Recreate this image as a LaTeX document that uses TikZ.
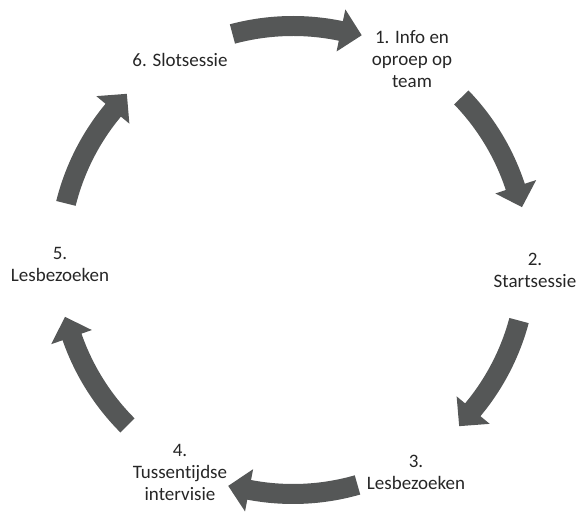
\documentclass[tikz,border=0pt]{standalone}
\usepackage{fontspec}
\setmainfont{Carlito}[Ligatures=NoCommon]
\usepackage{tikz}
\usetikzlibrary{positioning, calc}
\definecolor{arrowgray}{RGB}{85,87,87}
\definecolor{labeltext}{RGB}{38,38,38}

\begin{document}
\begin{tikzpicture}[
  x=1pt, y=1pt,
  every node/.style={font=\fontsize{19}{22}\selectfont, text=labeltext},
  step label/.style={align=center, inner sep=0pt},
  cycfill/.style={fill=arrowgray},
  pics/cycarrow/.style 2 args={code={
    \fill[cycfill] (#1:244) arc[start angle=#1, end angle=#2+5.2, radius=244]
      -- (#2+5.2:256) -- (#2:235) -- (#2+5.2:213)
      -- (#2+5.2:224) arc[start angle=#2+5.2, end angle=#1, radius=224] -- cycle;
  }},
]
\useasboundingbox (0,0) rectangle (579,516);

%% ── CENTRE OF THE CYCLE ───────────────────────────────────────────────
\coordinate (hub) at (293,256);

%% ── STEPS ─────────────────────────────────────────────────────────────
\node[step label] (info)    at (412,457) {1. Info en\\oproep op\\team};
\node[step label] (start)   at (535,246) {2.\\Startsessie};
\node[step label] (bezoek1) at (416,44)  {3.\\Lesbezoeken};
\node[step label] (intervi) at (180,44)  {4.\\Tussentijdse\\intervisie};
\node[step label] (bezoek2) at (60,252)  {5.\\Lesbezoeken};
\node[step label] (slot)    at (180,456) {6. Slotsessie};

%% ── ARROWS (clockwise) ────────────────────────────────────────────────
\pic at (hub) {cycarrow={105}{73}};   % slot -> info
\pic at (hub) {cycarrow={44}{13}};    % info -> start
\pic at (hub) {cycarrow={-15}{-45}};  % start -> bezoek1
\pic at (hub) {cycarrow={-74}{-106}}; % bezoek1 -> intervi
\pic at (hub) {cycarrow={-135}{-166}};% intervi -> bezoek2
\pic at (hub) {cycarrow={166}{135}};  % bezoek2 -> slot

\end{tikzpicture}
\end{document}
